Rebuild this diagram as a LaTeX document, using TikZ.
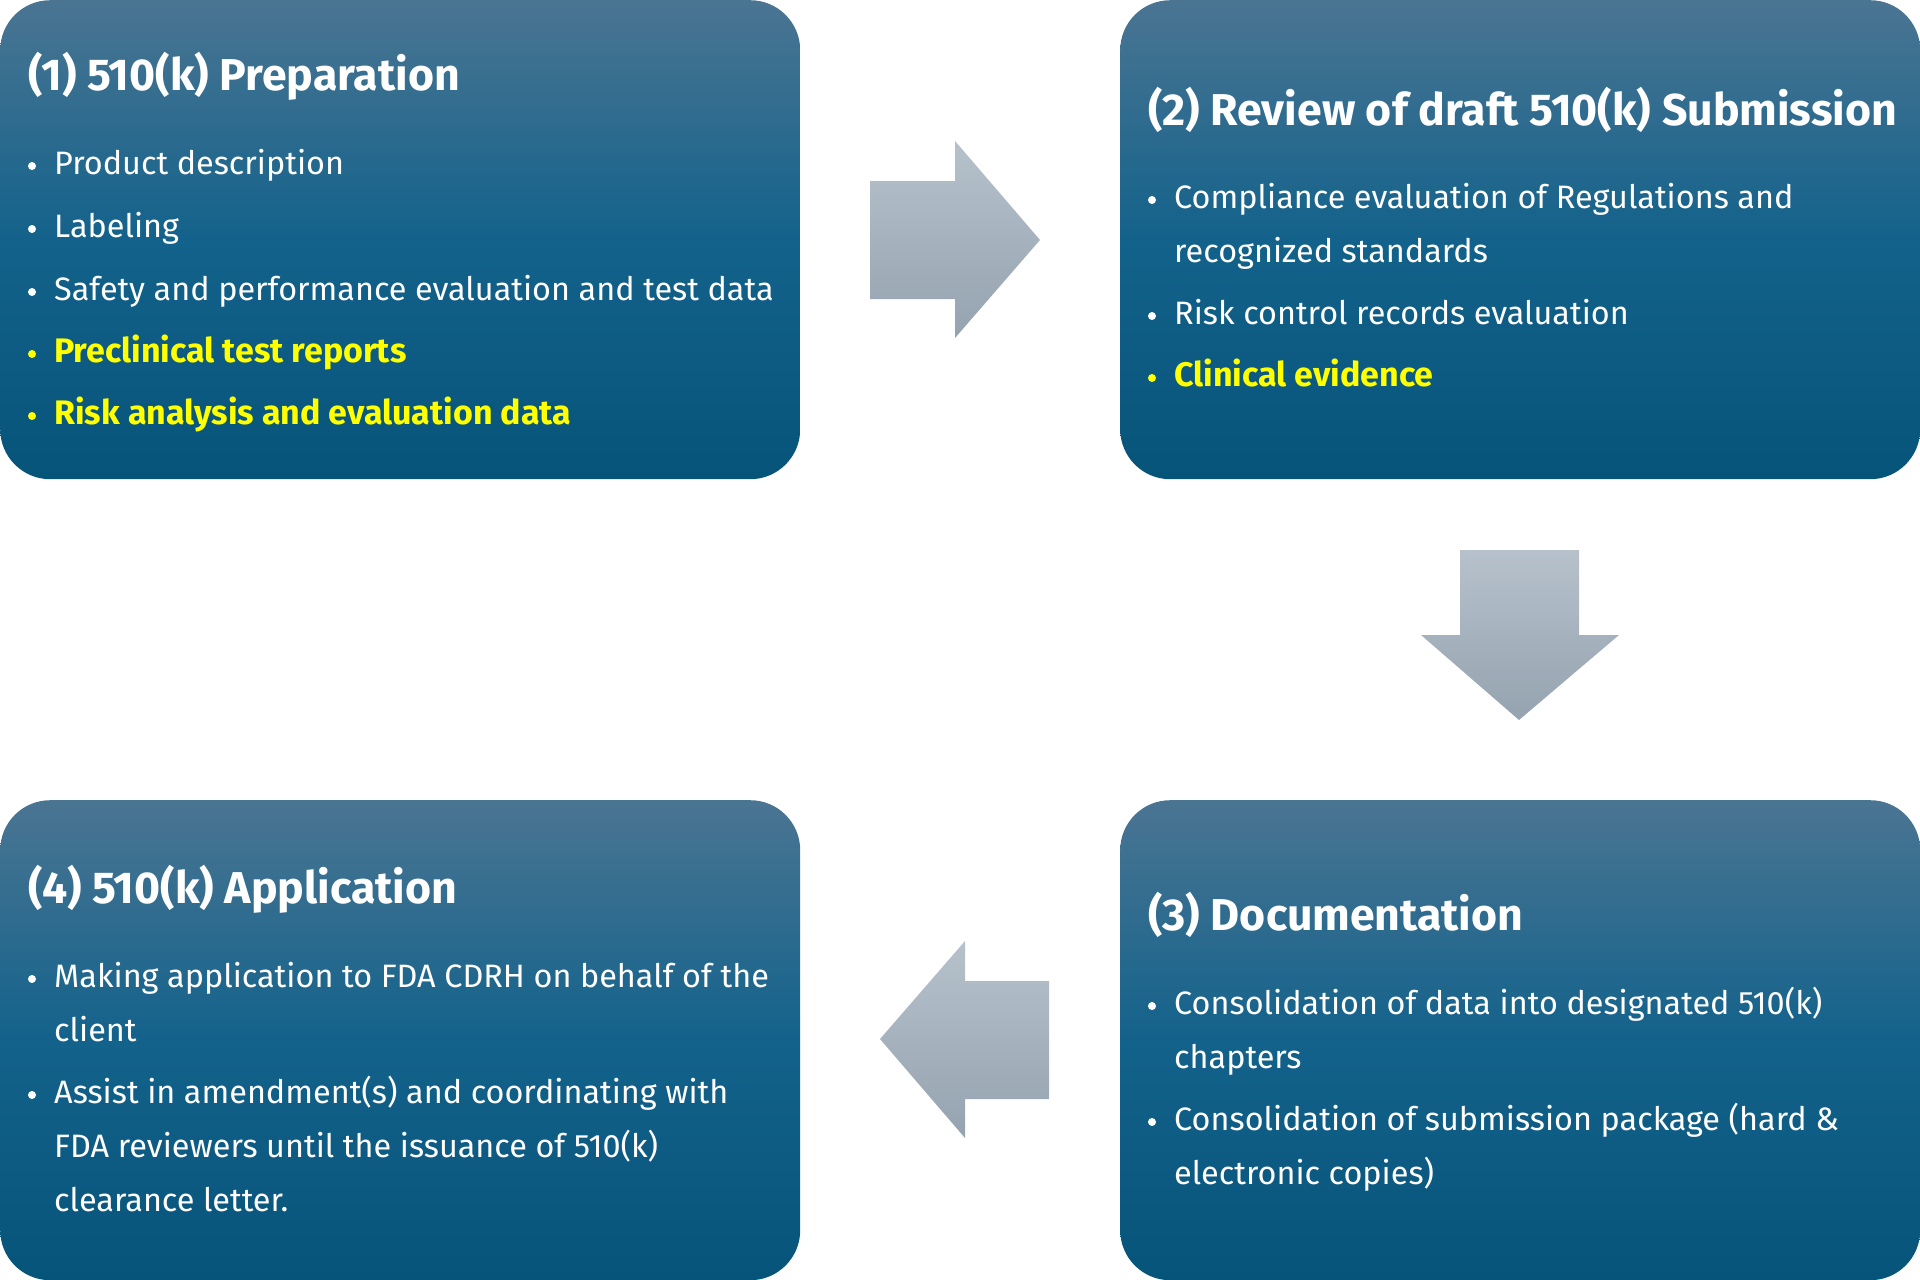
\documentclass[tikz,border=0pt]{standalone}
\usepackage{fontspec}
\setmainfont{Fira Sans}
\definecolor{boxtop}{HTML}{4A7592}
\definecolor{boxmid}{HTML}{13628B}
\definecolor{boxbot}{HTML}{07547A}
\definecolor{arrtop}{HTML}{B6C1CB}
\definecolor{arrbot}{HTML}{95A3B0}
\definecolor{hl}{HTML}{FFFF00}
\pgfdeclareverticalshading{boxshade}{100bp}{color(0bp)=(boxbot); color(25bp)=(boxbot); color(50bp)=(boxmid); color(75bp)=(boxtop); color(100bp)=(boxtop)}
\pgfdeclareverticalshading{arrshade}{100bp}{color(0bp)=(arrbot); color(25bp)=(arrbot); color(75bp)=(arrtop); color(100bp)=(arrtop)}
\tikzset{
  stepbox/.style={shading=boxshade, rounded corners=50pt, minimum width=800pt, minimum height=479pt, inner sep=0pt, anchor=north west},
  blockarrow/.style={shading=arrshade},
  ttl/.style={anchor=base west, inner sep=0pt, text=white, font=\fontsize{44.6}{52}\selectfont\bfseries},
  itm/.style={anchor=base west, inner sep=0pt, text=white, font=\fontsize{32.4}{38}\selectfont},
  hitm/.style={anchor=base west, inner sep=0pt, text=hl, font=\fontsize{34}{40}\selectfont\bfseries},
  dot/.style={circle, fill=white, inner sep=0pt, minimum size=8pt},
  hdot/.style={circle, fill=hl, inner sep=0pt, minimum size=8pt}
}
\begin{document}
\begin{tikzpicture}[x=1pt,y=-1pt]
\useasboundingbox (0,0) rectangle (1920,1280);
% boxes
\node[stepbox] (b1) at (0,0) {};
\node[stepbox] (b2) at (1120,0) {};
\node[stepbox, minimum height=480pt] (b3) at (1120,800) {};
\node[stepbox, minimum height=480pt] (b4) at (0,800) {};
% arrows
\coordinate (r1) at (870,181);
\shade[blockarrow] (r1) -- (955,181) -- (955,141) -- (1040,240) -- (955,338) -- (955,299) -- (870,299) -- cycle;
\coordinate (d1) at (1460,550);
\shade[blockarrow] (d1) -- (1579,550) -- (1579,635) -- (1619,635) -- (1519,720) -- (1421,635) -- (1460,635) -- cycle;
\coordinate (l1) at (1049,981);
\shade[blockarrow] (l1) -- (1049,1099) -- (965,1099) -- (965,1138) -- (880,1039) -- (965,941) -- (965,981) -- cycle;
% box 1
\node[ttl] (t1) at (28,90) {(1) 510(k) Preparation};
\node[dot] (p1a) at (32,166) {};
\node[itm] (i1a) at (54,174) {Product description};
\node[dot] (p1b) at (32,229) {};
\node[itm] (i1b) at (54,237) {Labeling};
\node[dot] (p1c) at (32,292) {};
\node[itm] (i1c) at (54,300) {Safety and performance evaluation and test data};
\node[hdot] (p1d) at (32,354) {};
\node[hitm] (i1d) at (54,362) {Preclinical test reports};
\node[hdot] (p1e) at (32,416) {};
\node[hitm] (i1e) at (54,424) {Risk analysis and evaluation data};
% box 2
\node[ttl] (t2) at (1148,125) {(2) Review of draft 510(k) Submission};
\node[dot] (p2a) at (1152,200) {};
\node[itm] (i2a) at (1174,208) {Compliance evaluation of Regulations and};
\node[itm] (i2b) at (1174,262) {recognized standards};
\node[dot] (p2c) at (1152,316) {};
\node[itm] (i2c) at (1174,324) {Risk control records evaluation};
\node[hdot] (p2d) at (1152,378) {};
\node[hitm] (i2d) at (1174,386) {Clinical evidence};
% box 3
\node[ttl] (t3) at (1148,930) {(3) Documentation};
\node[dot] (p3a) at (1152,1006) {};
\node[itm] (i3a) at (1174,1014) {Consolidation of data into designated 510(k)};
\node[itm] (i3b) at (1174,1068) {chapters};
\node[dot] (p3c) at (1152,1122) {};
\node[itm] (i3c) at (1174,1130) {Consolidation of submission package (hard \&};
\node[itm] (i3d) at (1174,1184) {electronic copies)};
% box 4
\node[ttl] (t4) at (28,903) {(4) 510(k) Application};
\node[dot] (p4a) at (32,979) {};
\node[itm] (i4a) at (54,987) {Making application to FDA CDRH on behalf of the};
\node[itm] (i4b) at (54,1041) {client};
\node[dot] (p4c) at (32,1095) {};
\node[itm] (i4c) at (54,1103) {Assist in amendment(s) and coordinating with};
\node[itm] (i4d) at (54,1157) {FDA reviewers until the issuance of 510(k)};
\node[itm] (i4e) at (54,1211) {clearance letter.};
\end{tikzpicture}
\end{document}
